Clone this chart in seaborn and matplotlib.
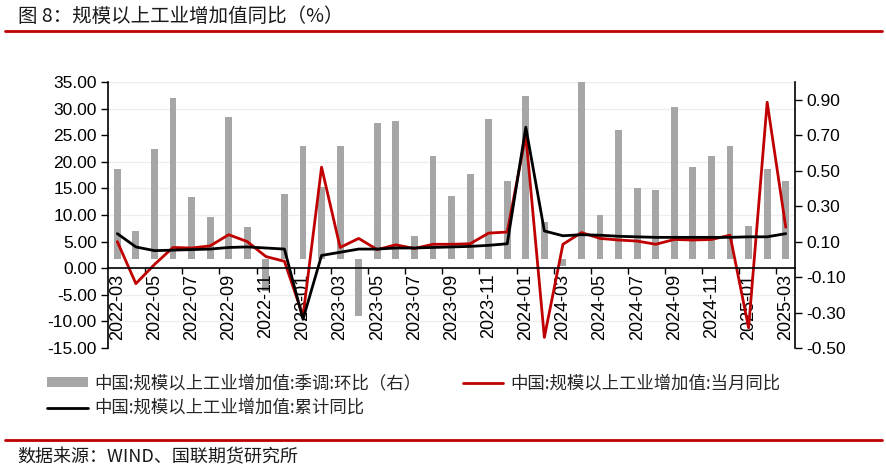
import numpy as np
import pandas as pd
import matplotlib
matplotlib.use("Agg")
import matplotlib.pyplot as plt
from matplotlib.ticker import FixedLocator, FormatStrFormatter
from matplotlib.lines import Line2D
import seaborn as sns

months = ["2022-03", "2022-04", "2022-05", "2022-06", "2022-07", "2022-08", "2022-09",
          "2022-10", "2022-11", "2022-12", "2023-01", "2023-02", "2023-03", "2023-04",
          "2023-05", "2023-06", "2023-07", "2023-08", "2023-09", "2023-10", "2023-11",
          "2023-12", "2024-01", "2024-02", "2024-03", "2024-04", "2024-05", "2024-06",
          "2024-07", "2024-08", "2024-09", "2024-10", "2024-11", "2024-12", "2025-01",
          "2025-02", "2025-03"]

# 季调环比 (right axis)
mom_sa = [0.51, 0.16, 0.62, 0.91, 0.35, 0.24, 0.80, 0.18, -0.18, 0.37, 0.64, 0.41, 0.64,
          -0.32, 0.77, 0.78, 0.13, 0.58, 0.36, 0.48, 0.79, 0.44, 0.92, 0.21, -0.04, 1.00,
          0.25, 0.73, 0.40, 0.39, 0.86, 0.52, 0.58, 0.64, 0.19, 0.51, 0.44]

# 当月同比 (left axis)
yoy_month = [5.0, -2.9, 0.7, 3.9, 3.8, 4.2, 6.3, 5.0, 2.2, 1.3, -9.0, 19.0, 3.9, 5.6,
             3.5, 4.4, 3.7, 4.5, 4.5, 4.6, 6.6, 6.8, 25.0, -13.0, 4.5, 6.7, 5.6, 5.3,
             5.1, 4.5, 5.4, 5.3, 5.4, 6.2, -11.2, 31.2, 7.7]

# 累计同比 (left axis)
yoy_cum = [6.5, 4.0, 3.3, 3.4, 3.5, 3.6, 3.9, 4.0, 3.8, 3.6, -9.6, 2.4, 3.0, 3.6,
           3.6, 3.8, 3.8, 3.9, 4.0, 4.1, 4.3, 4.6, 26.5, 7.0, 6.1, 6.3, 6.2, 6.0,
           5.9, 5.8, 5.8, 5.8, 5.8, 5.8, 5.9, 5.9, 6.5]

label_bar = "中国:规模以上工业增加值:季调:环比（右）"
label_month = "中国:规模以上工业增加值:当月同比"
label_cum = "中国:规模以上工业增加值:累计同比"

df = pd.DataFrame({"idx": np.arange(len(months)), "month": months,
                   "mom": mom_sa, "yoy": yoy_month, "cum": yoy_cum})

sns.set_theme(style="white")
plt.rcParams["font.family"] = ["Liberation Sans", "Noto Sans CJK SC", "DejaVu Sans"]
cjk = ["Noto Sans CJK SC", "DejaVu Sans"]

fig = plt.figure(figsize=(8.87, 4.71), dpi=100)
ax = fig.add_axes([0.1218, 0.2611, 0.8963 - 0.1218, 0.8259 - 0.2611])
ax2 = ax.twinx()
ax.set_zorder(2)
ax2.set_zorder(1)
ax.patch.set_visible(False)

# bars on right axis
sns.barplot(data=df, x="idx", y="mom", ax=ax2, color="#a6a6a6", width=0.37,
            saturation=1, label=label_bar, linewidth=0)

# lines on left axis
sns.lineplot(data=df, x="idx", y="yoy", ax=ax, color="#c00000", linewidth=2.0,
             label=label_month)
sns.lineplot(data=df, x="idx", y="cum", ax=ax, color="#000000", linewidth=2.0,
             label=label_cum)

n = len(months)
ax.set_xlim(-0.5, n - 0.5)
ax.set_ylim(-15, 35)
ax2.set_ylim(-0.5, 1.0)

ax.set_yticks(np.arange(-15, 36, 5))
ax.yaxis.set_major_formatter(FormatStrFormatter("%.2f"))
ax2.set_yticks(np.arange(-0.5, 0.91, 0.2))
ax2.yaxis.set_major_formatter(FormatStrFormatter("%.2f"))

# light horizontal grid (behind bars) at left-axis tick levels
grid_r = [(v + 15) / 50 * 1.5 - 0.5 for v in np.arange(-15, 36, 5)]
ax2.yaxis.set_minor_locator(FixedLocator(grid_r))
ax2.tick_params(axis="y", which="minor", length=0)
ax2.grid(which="minor", axis="y", color="#ededed", linewidth=0.9)
ax2.grid(which="major", visible=False)

ax.set_xticks(np.arange(0, n, 2))
ax.set_xticklabels(months[::2])
ax.xaxis.set_minor_locator(FixedLocator(np.arange(1.5, n - 1, 2)))
ax.tick_params(axis="x", which="major", length=0, pad=4, labelsize=13,
               labelcolor="#000000", labelrotation=90)
ax.tick_params(axis="x", which="minor", length=4, width=1, direction="out", color="#000000",
               bottom=True)
ax.tick_params(axis="y", which="major", length=5, width=1, direction="out", left=True,
               labelsize=12.5, colors="#000000", pad=3)
ax2.tick_params(axis="y", which="major", length=5, width=1, direction="out", right=True,
                labelsize=12.5, colors="#000000", pad=3)

for a in (ax, ax2):
    a.set_xlabel("")
    a.set_ylabel("")
    a.spines["top"].set_visible(False)

ax.spines["bottom"].set_position(("data", 0))
ax.spines["bottom"].set_color("#000000")
ax.spines["bottom"].set_linewidth(1.2)
ax.spines["left"].set_color("#000000")
ax.spines["left"].set_linewidth(1.2)
ax.spines["right"].set_visible(False)
ax2.spines["bottom"].set_visible(False)
ax2.spines["left"].set_visible(False)
ax2.spines["right"].set_color("#000000")
ax2.spines["right"].set_linewidth(1.2)

# legend
h1, l1 = ax.get_legend_handles_labels()
h2, l2 = ax2.get_legend_handles_labels()
for a in (ax, ax2):
    lg = a.get_legend()
    if lg is not None:
        lg.remove()
hd = dict(zip(l1 + l2, h1 + h2))
handles = [hd[label_bar], hd[label_cum], hd[label_month]]
labels = [label_bar, label_cum, label_month]
fig.legend(handles, labels, loc="upper left", bbox_to_anchor=(0.053, 0.2053),
           ncol=2, frameon=False, prop={"family": cjk, "size": 12.5}, handlelength=2.35,
           handleheight=0.45, handletextpad=0.4, labelspacing=0.39, columnspacing=2.35,
           borderaxespad=0, borderpad=0)

# title and decorations
fig.text(0.020, 0.966, "图 8：规模以上工业增加值同比（%）", family=cjk, fontsize=14,
         color="#1a1a1a", va="center", ha="left")
fig.add_artist(Line2D([0.006, 0.994], [0.934, 0.934], transform=fig.transFigure,
                      color="#c00000", linewidth=2.0))
fig.add_artist(Line2D([0.006, 0.994], [0.066, 0.066], transform=fig.transFigure,
                      color="#c00000", linewidth=2.0))
fig.text(0.019, 0.029, "数据来源：WIND、国联期货研究所", family=cjk, fontsize=13,
         color="#1a1a1a", va="center", ha="left")

fig.savefig("out.png", dpi=100)
